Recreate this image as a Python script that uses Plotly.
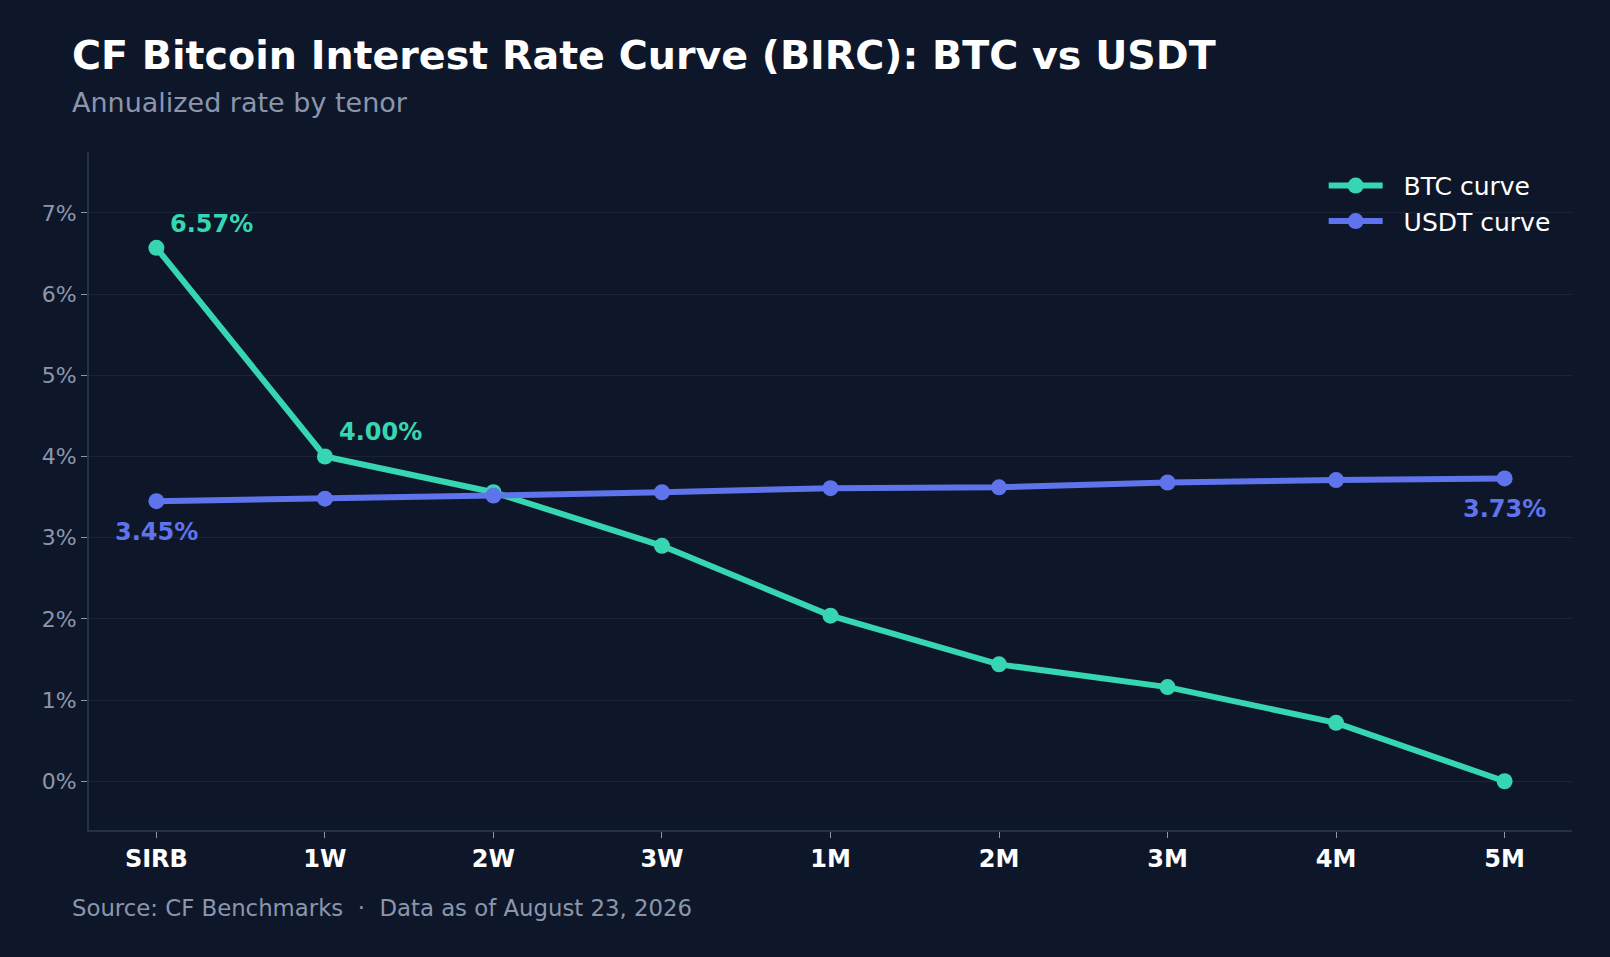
import plotly.graph_objects as go

tenors = ["SIRB", "1W", "2W", "3W", "1M", "2M", "3M", "4M", "5M"]
btc_rates = [6.57, 4.00, 3.56, 2.90, 2.04, 1.44, 1.16, 0.72, 0.00]
usdt_rates = [3.45, 3.48, 3.52, 3.56, 3.61, 3.62, 3.68, 3.71, 3.73]
y_ticks = [0, 1, 2, 3, 4, 5, 6, 7]

BG = "#0e1729"
BTC_COLOR = "#36d6b2"
USDT_COLOR = "#5f74ec"
MUTED = "#8b96ad"
GRID = "#1a2436"
AXIS = "#243149"
FONT = "DejaVu Sans"

fig = go.Figure()
fig.add_trace(go.Scatter(
    x=tenors, y=btc_rates, name="\u00a0\u00a0BTC curve", mode="lines+markers",
    line=dict(color=BTC_COLOR, width=6),
    marker=dict(color=BTC_COLOR, size=16),
))
fig.add_trace(go.Scatter(
    x=tenors, y=usdt_rates, name="\u00a0\u00a0USDT curve", mode="lines+markers",
    line=dict(color=USDT_COLOR, width=6),
    marker=dict(color=USDT_COLOR, size=16),
))

# value labels on first/last points
labels = [
    (tenors[0], btc_rates[0], BTC_COLOR, "left", 12, 24),
    (tenors[1], btc_rates[1], BTC_COLOR, "left", 12, 24),
    (tenors[0], usdt_rates[0], USDT_COLOR, "center", 0, -31),
    (tenors[-1], usdt_rates[-1], USDT_COLOR, "center", 0, -31),
]
for x, y, col, anchor, dx, dy in labels:
    fig.add_annotation(
        x=x, y=y, text=f"<b>{y:.2f}%</b>", showarrow=False,
        xanchor=anchor, yanchor="middle", xshift=dx, yshift=dy,
        font=dict(family=FONT, size=24, color=col),
    )

fig.add_annotation(
    xref="paper", yref="paper", x=-0.0128, y=1.0737,
    text="Annualized rate by tenor", showarrow=False,
    xanchor="left", yanchor="middle",
    font=dict(family=FONT, size=27, color=MUTED),
)
fig.add_annotation(
    xref="paper", yref="paper", x=-0.0128, y=-0.115,
    text="Source: CF Benchmarks  ·  Data as of August 23, 2026", showarrow=False,
    xanchor="left", yanchor="middle",
    font=dict(family=FONT, size=22.8, color=MUTED),
)

fig.update_layout(
    width=1610, height=957,
    paper_bgcolor=BG, plot_bgcolor=BG,
    margin=dict(l=89, r=38, t=152, b=127),
    title=dict(
        text="<b>CF Bitcoin Interest Rate Curve (BIRC): BTC vs USDT</b>",
        xref="container", yref="container", x=72 / 1610, y=1 - 55 / 957,
        xanchor="left", yanchor="middle",
        font=dict(family=FONT, size=39.6, color="#ffffff"),
    ),
    font=dict(family=FONT, color=MUTED),
    legend=dict(
        x=0.989, y=0.984, xanchor="right", yanchor="top",
        bgcolor="rgba(0,0,0,0)", itemwidth=54,
        font=dict(family=FONT, size=25, color="#ffffff"),
    ),
    showlegend=True,
)
fig.update_xaxes(
    range=[-0.4, 8.4], showgrid=False, zeroline=False,
    showline=True, linecolor=AXIS, linewidth=2,
    ticks="outside", ticklen=6, tickcolor=MUTED,
    tickfont=dict(family=FONT, size=24, color="#ffffff", weight="bold"),
)
fig.update_yaxes(
    range=[-0.6, 7.75], tickvals=y_ticks, ticktext=[f"{v}%" for v in y_ticks],
    showgrid=True, gridcolor=GRID, gridwidth=1, zeroline=False,
    showline=True, linecolor=AXIS, linewidth=2,
    ticks="outside", ticklen=6, tickcolor=MUTED,
    tickfont=dict(family=FONT, size=22, color=MUTED),
)

fig.write_html("out.html", config={"displayModeBar": False},
               post_script="document.body.style.margin='0';")
